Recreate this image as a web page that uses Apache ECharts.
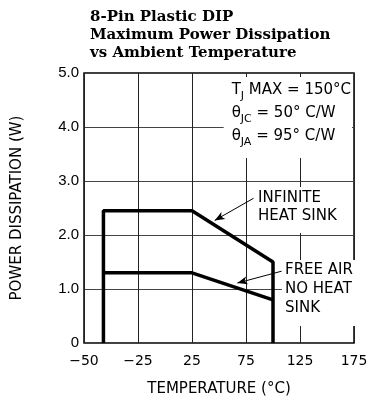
<!DOCTYPE html>
<html>
<head>
<meta charset="utf-8">
<script src="https://cdn.jsdelivr.net/npm/echarts@6/dist/echarts.min.js"></script>
<style>
  html, body { margin: 0; padding: 0; background: #fff; }
  #chart { width: 373px; height: 406px; }
</style>
</head>
<body>
<div id="chart"></div>
<script>
// tick labels as printed on the sheet (equally spaced, but not evenly valued)
const xTickValues = [-50, -25, 25, 75, 125, 175];
const xTickLabels = ["\u221250", "\u221225", "25", "75", "125", "175"];
const yTickLabels = ["0", "1.0", "2.0", "3.0", "4.0", "5.0"];

// curves: temperature (°C) / power (W)
const infiniteTemps = [-41, -41, 25, 100, 100];
const infiniteWatts = [0, 2.45, 2.45, 1.5, 0];
const freeAirTemps = [-41, 25, 100];
const freeAirWatts = [1.3, 1.3, 0.8];

// pointer arrows (tail -> head), in temperature / power
const infiniteArrow = [[82, 2.68], [46, 2.27]];
const freeAirArrow = [[108, 1.33], [67, 1.11]];

// map a temperature onto the printed axis (piecewise between the tick values)
function tpos(t) {
  for (let i = 0; i < xTickValues.length - 1; i++) {
    const a = xTickValues[i], b = xTickValues[i + 1];
    if (t <= b || i === xTickValues.length - 2) {
      return i + (t - a) / (b - a);
    }
  }
}

const toPts = (xs, ys) => xs.map((t, i) => [tpos(t), ys[i]]);
const arrowLine = (arr) => [{ coord: [tpos(arr[0][0]), arr[0][1]] }, { coord: [tpos(arr[1][0]), arr[1][1]] }];

const cad = "DejaVu Sans";
const lineStyle = { color: "#000", width: 3.5 };
const arrowMark = (arr) => ({
  silent: true,
  symbol: ["none", "arrow"],
  symbolSize: [6, 10],
  lineStyle: { color: "#000", width: 1, type: "solid" },
  label: { show: false },
  data: [arrowLine(arr)],
});

const chart = echarts.init(document.getElementById("chart"));
chart.setOption({
  animation: false,
  grid: {
    left: 84, right: 19, top: 73, bottom: 63,
    show: true, borderColor: "#000", borderWidth: 1.5,
  },
  xAxis: {
    type: "value",
    min: 0, max: 5, interval: 1,
    axisLine: { show: false },
    axisTick: { show: false },
    splitLine: { show: true, lineStyle: { color: "#222", width: 1 } },
    axisLabel: {
      formatter: (v) => xTickLabels[v],
      color: "#000", fontFamily: cad, fontSize: 14, margin: 11,
    },
    name: "TEMPERATURE (\u00b0C)",
    nameLocation: "middle",
    nameGap: 39,
    nameTextStyle: { color: "#000", fontFamily: cad, fontSize: 15 },
  },
  yAxis: {
    type: "value",
    min: 0, max: 5, interval: 1,
    axisLine: { show: false },
    axisTick: { show: false },
    splitLine: { show: true, lineStyle: { color: "#444", width: 1 } },
    axisLabel: {
      formatter: (v) => yTickLabels[v],
      color: "#000", fontFamily: "Liberation Sans", fontSize: 15, margin: 5,
    },
    name: "POWER DISSIPATION (W)",
    nameLocation: "middle",
    nameGap: 59,
    nameTextStyle: { color: "#000", fontFamily: cad, fontSize: 15 },
  },
  series: [
    {
      name: "Infinite heat sink",
      type: "line",
      data: toPts(infiniteTemps, infiniteWatts),
      symbol: "none",
      lineStyle,
      z: 5,
      markLine: arrowMark(infiniteArrow),
    },
    {
      name: "Free air",
      type: "line",
      data: toPts(freeAirTemps, freeAirWatts),
      symbol: "none",
      lineStyle,
      z: 5,
      markLine: arrowMark(freeAirArrow),
    },
  ],
  graphic: [
    {
      type: "text", left: 90, top: 8,
      style: {
        text: "8-Pin Plastic DIP\nMaximum Power Dissipation\nvs Ambient Temperature",
        font: "bold 15px 'DejaVu Serif'",
        lineHeight: 18, fill: "#000",
      },
    },
    {
      type: "text", right: 21, top: 77, z: 3,
      style: {
        text: "T{s|J} MAX = 150\u00b0C\n\u03b8{s|JC} = 50\u00b0 C/W\n\u03b8{s|JA} = 95\u00b0 C/W",
        font: "15px 'DejaVu Sans'",
        align: "right",
        lineHeight: 23, fill: "#000",
        backgroundColor: "#fff", padding: [2, 1, 10, 8],
        rich: { s: { fontSize: 11, verticalAlign: "bottom", padding: [9, 0, 0, 0], fontFamily: cad } },
      },
    },
    {
      type: "text", left: 255, top: 187, z: 3,
      style: {
        text: "INFINITE\nHEAT SINK",
        font: "15px 'DejaVu Sans'", lineHeight: 18, fill: "#000",
        backgroundColor: "#fff", padding: [2, 3, 8, 3],
      },
    },
    {
      type: "text", left: 282, top: 260, z: 3,
      style: {
        text: "FREE AIR\nNO HEAT\nSINK",
        font: "15px 'DejaVu Sans'", lineHeight: 19, fill: "#000",
        backgroundColor: "#fff", padding: [1, 3, 8, 3],
      },
    },
  ],
});
</script>
</body>
</html>
